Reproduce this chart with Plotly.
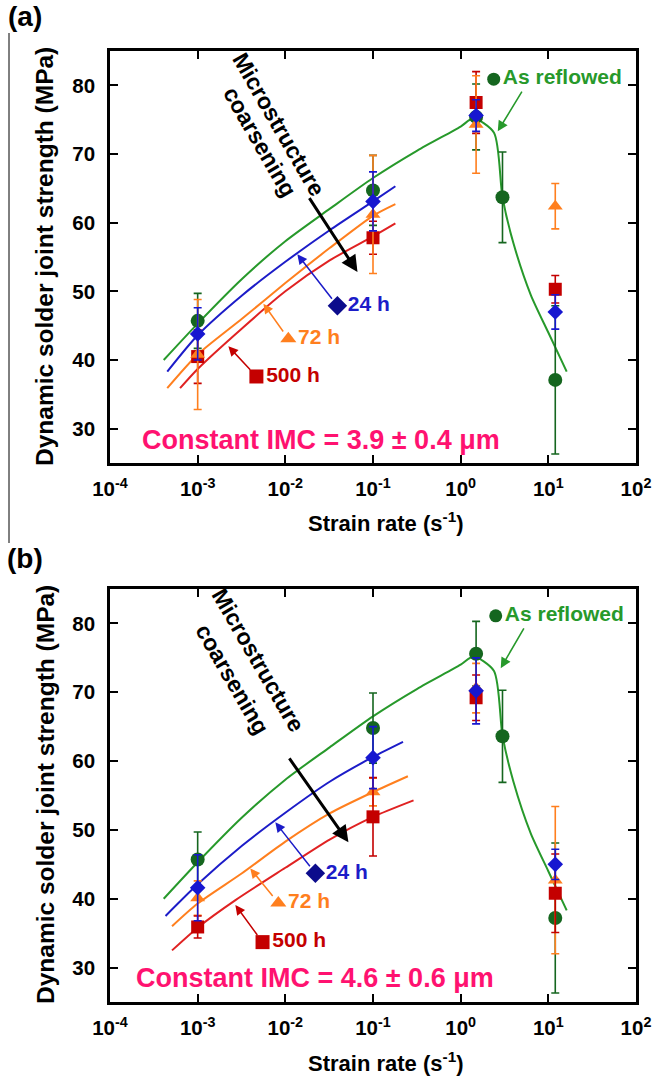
import plotly.graph_objects as go

# ---------------- measured joint strengths (MPa), mean and +/- scatter ----------------
rates = [1e-3, 1e-1, 1.5, 12]
reflow_rates = [1e-3, 1e-1, 1.5, 3, 12]

a_reflow = [45.7, 64.7, 75.4, 63.7, 37.1]
a_reflow_err = [4.0, 5.1, 4.8, 6.6, 10.8]
a_24h = [43.8, 63.1, 75.6, 47.0]
a_24h_err = [3.8, 4.3, 2.3, 2.5]
a_72h = [40.8, 61.2, 74.3, 62.4]
a_72h_err = [8.0, 8.6, 7.1, 3.3]
a_500h = [40.5, 57.8, 77.5, 50.3]
a_500h_err = [3.9, 2.4, 4.5, 2.0]

b_reflow = [45.7, 64.8, 75.6, 63.6, 37.2]
b_reflow_err = [4.0, 5.1, 4.7, 6.7, 10.9]
b_24h = [41.6, 60.5, 70.2, 45.0]
b_24h_err = [4.8, 4.5, 4.8, 2.2]
b_72h = [40.1, 55.5, 70.6, 42.7]
b_72h_err = [2.5, 2.0, 3.6, 10.7]
b_500h = [35.9, 51.9, 69.2, 40.8]
b_500h_err = [1.6, 5.7, 3.3, 5.7]

# ---------------- fitted trend curves ----------------
fit_reflow_rate = [4.1e-4, 1e-3, 3.2e-3, 1e-2, 3.2e-2, 0.1, 0.32, 1.0, 1.4, 2.4, 3.0, 4.0, 6.3, 10, 16.2]
fit_reflow = [40.0, 45.3, 51.8, 57.3, 62.0, 66.5, 70.5, 74.0, 75.2, 73.1, 63.7, 57.0, 49.5, 44.0, 38.3]

fit_a_24h_rate = [4.5e-4, 1e-3, 3.2e-3, 1e-2, 3.2e-2, 0.1, 0.18]
fit_a_24h = [38.3, 43.6, 49.4, 54.3, 58.9, 63.1, 65.3]
fit_a_72h_rate = [4.5e-4, 1e-3, 3.2e-3, 1e-2, 3.2e-2, 0.1, 0.18]
fit_a_72h = [35.9, 40.8, 46.0, 51.2, 56.3, 61.0, 62.7]
fit_a_500h_rate = [6.3e-4, 1e-3, 3.2e-3, 1e-2, 3.2e-2, 0.1, 0.18]
fit_a_500h = [35.9, 38.7, 44.6, 50.0, 54.5, 58.0, 59.9]

fit_b_24h_rate = [4.3e-4, 1e-3, 3.2e-3, 1e-2, 3.2e-2, 0.1, 0.22]
fit_b_24h = [37.5, 42.1, 47.7, 52.5, 57.0, 60.6, 62.8]
fit_b_72h_rate = [5.1e-4, 1e-3, 3.2e-3, 1e-2, 3.2e-2, 0.1, 0.25]
fit_b_72h = [36.0, 39.3, 43.7, 48.3, 52.4, 55.5, 57.8]
fit_b_500h_rate = [5.1e-4, 1e-3, 2.7e-3, 1e-2, 3.2e-2, 0.1, 0.29]
fit_b_500h = [32.5, 35.8, 39.8, 44.5, 48.6, 51.9, 54.3]

# ---------------- text ----------------
tick_vals = [1e-4, 1e-3, 1e-2, 1e-1, 1e0, 1e1, 1e2]
tick_text = ["10<sup>-4</sup>", "10<sup>-3</sup>", "10<sup>-2</sup>", "10<sup>-1</sup>",
             "10<sup>0</sup>", "10<sup>1</sup>", "10<sup>2</sup>"]
y_ticks = [30, 40, 50, 60, 70, 80]
imc_a = "Constant IMC = 3.9 ± 0.4 μm"
imc_b = "Constant IMC = 4.6 ± 0.6 μm"

# ---------------- styling ----------------
FONT = "Liberation Sans, Arial, sans-serif"
W, H = 652, 1080
GREEN_LINE, GREEN_MK = "#27992b", "#15661f"
BLUE_LINE, BLUE_MK, BLUE_LBL = "#1c1cc8", "#1717d0", "#0c0c8c"
ORANGE = "#ff7f1e"
RED_LINE, RED_MK = "#e02222", "#c40000"
PINK = "#ff1270"

fig = go.Figure()

def px_x(p):
    return p / W

def px_y(p):
    return 1 - p / H

panels = [
    dict(xa="x", ya="y", dom_y=[px_y(463), px_y(51)],
         reflow=a_reflow, reflow_err=a_reflow_err,
         series=[(a_500h, a_500h_err, "square", RED_MK, 13),
                 (a_72h, a_72h_err, "triangle-up", ORANGE, 13),
                 (a_24h, a_24h_err, "diamond", BLUE_MK, 12)],
         fits=[(fit_a_24h_rate, fit_a_24h, BLUE_LINE),
               (fit_a_72h_rate, fit_a_72h, ORANGE),
               (fit_a_500h_rate, fit_a_500h, RED_LINE)],
         labels=[("24 h", -1.406, 47.9, -1.863, 55.4, "diamond", BLUE_LBL, BLUE_LINE),
                 ("72 h", -1.966, 43.1, -2.25, 48.2, "triangle-up", ORANGE, ORANGE),
                 ("500 h", -2.33, 37.6, -2.65, 42.0, "square", RED_MK, RED_MK)],
         reflow_lbl=(0.377, 80.9, 0.709, 79.3, 0.423, 73.3),
         coarse_arrow=(-1.737, 63.8, -1.177, 52.8),
         micro=(-2.08, 74.3), coars=(-2.286, 71.8),
         imc=imc_a, imc_pos=(321, 440)),
    dict(xa="x2", ya="y2", dom_y=[px_y(1002), px_y(589)],
         reflow=b_reflow, reflow_err=b_reflow_err,
         series=[(b_72h, b_72h_err, "triangle-up", ORANGE, 13),
                 (b_500h, b_500h_err, "square", RED_MK, 13),
                 (b_24h, b_24h_err, "diamond", BLUE_MK, 12)],
         fits=[(fit_b_24h_rate, fit_b_24h, BLUE_LINE),
               (fit_b_72h_rate, fit_b_72h, ORANGE),
               (fit_b_500h_rate, fit_b_500h, RED_LINE)],
         labels=[("24 h", -1.657, 43.7, -2.114, 51.1, "diamond", BLUE_LBL, BLUE_LINE),
                 ("72 h", -2.08, 39.4, -2.40, 44.4, "triangle-up", ORANGE, ORANGE),
                 ("500 h", -2.26, 33.7, -2.57, 39.1, "square", RED_MK, RED_MK)],
         reflow_lbl=(0.40, 81.1, 0.731, 79.5, 0.457, 73.5),
         coarse_arrow=(-1.966, 60.6, -1.28, 48.2),
         micro=(-2.309, 74.7), coars=(-2.606, 71.9),
         imc=imc_b, imc_pos=(315, 978)),
]

annotations = []
for pn in panels:
    xa, ya = pn["xa"], pn["ya"]
    # trend curves
    fig.add_trace(go.Scatter(x=fit_reflow_rate, y=fit_reflow, mode="lines",
                             line=dict(color=GREEN_LINE, width=2, shape="spline", smoothing=0.7),
                             xaxis=xa, yaxis=ya, hoverinfo="skip"))
    for fx, fy, col in pn["fits"]:
        fig.add_trace(go.Scatter(x=fx, y=fy, mode="lines",
                                 line=dict(color=col, width=2, shape="spline", smoothing=0.7),
                                 xaxis=xa, yaxis=ya, hoverinfo="skip"))
    # measured points
    fig.add_trace(go.Scatter(x=reflow_rates, y=pn["reflow"], mode="markers",
                             marker=dict(symbol="circle", size=14, color=GREEN_MK),
                             error_y=dict(type="data", array=pn["reflow_err"], color=GREEN_MK,
                                          thickness=1.6, width=4),
                             xaxis=xa, yaxis=ya))
    for vals, errs, sym, col, sz in pn["series"]:
        fig.add_trace(go.Scatter(x=rates, y=vals, mode="markers",
                                 marker=dict(symbol=sym, size=sz, color=col),
                                 error_y=dict(type="data", array=errs, color=col,
                                              thickness=1.6, width=4),
                                 xaxis=xa, yaxis=ya))
    # series labels with pointer arrows
    for txt, lx, ly, tx, ty, sym, mcol, lcol in pn["labels"]:
        fig.add_trace(go.Scatter(x=[10 ** lx], y=[ly], mode="markers+text", text=[txt],
                                 textposition="middle right",
                                 textfont=dict(family=FONT, size=21, color=lcol, weight="bold"),
                                 marker=dict(symbol=sym, size=14 if sym != "diamond" else 15, color=mcol),
                                 xaxis=xa, yaxis=ya, cliponaxis=False))
        annotations.append(dict(x=tx, y=ty, ax=lx, ay=ly, xref=xa, yref=ya, axref=xa, ayref=ya,
                                text="", showarrow=True, arrowhead=2, arrowsize=1.3,
                                arrowwidth=1.5, arrowcolor=lcol, startstandoff=7))
    mx, my, ax_, ay_, tx, ty = pn["reflow_lbl"]
    fig.add_trace(go.Scatter(x=[10 ** mx], y=[my], mode="markers+text", text=["As reflowed"],
                             textposition="middle right",
                             textfont=dict(family=FONT, size=21, color=GREEN_LINE, weight="bold"),
                             marker=dict(symbol="circle", size=13, color=GREEN_MK),
                             xaxis=xa, yaxis=ya, cliponaxis=False))
    annotations.append(dict(x=tx, y=ty, ax=ax_, ay=ay_, xref=xa, yref=ya, axref=xa, ayref=ya,
                            text="", showarrow=True, arrowhead=2, arrowsize=1.3,
                            arrowwidth=1.6, arrowcolor=GREEN_LINE))
    # microstructure coarsening arrow and caption
    cx0, cy0, cx1, cy1 = pn["coarse_arrow"]
    annotations.append(dict(x=cx1, y=cy1, ax=cx0, ay=cy0, xref=xa, yref=ya, axref=xa, ayref=ya,
                            text="", showarrow=True, arrowhead=2, arrowsize=1.1,
                            arrowwidth=3, arrowcolor="black"))
    for (tx_, ty_), s in ((pn["micro"], "Microstructure"), (pn["coars"], "coarsening")):
        annotations.append(dict(x=tx_, y=ty_, xref=xa, yref=ya, text=s, showarrow=False,
                                textangle=60, font=dict(family=FONT, size=23, color="black", weight="bold")))
    # IMC thickness note
    ix, iy = pn["imc_pos"]
    annotations.append(dict(x=px_x(ix), y=px_y(iy), xref="paper", yref="paper", text=pn["imc"],
                            showarrow=False, xanchor="center", yanchor="middle",
                            font=dict(family=FONT, size=27, color=PINK, weight="bold")))

# axis titles and panel letters
for ytitle_c, xtitle_c, letter, ly in ((257, 522, "(a)", 17), (795, 1062, "(b)", 558)):
    annotations.append(dict(x=px_x(45), y=px_y(ytitle_c), xref="paper", yref="paper",
                            text="Dynamic solder joint strength (MPa)", textangle=-90,
                            showarrow=False, xanchor="center", yanchor="middle",
                            font=dict(family=FONT, size=24.5, color="black", weight="bold")))
    annotations.append(dict(x=px_x(386), y=px_y(xtitle_c), xref="paper", yref="paper",
                            text="Strain rate (s<sup>-1</sup>)", showarrow=False,
                            xanchor="center", yanchor="middle",
                            font=dict(family=FONT, size=22, color="black", weight="bold")))
    annotations.append(dict(x=px_x(25), y=px_y(ly), xref="paper", yref="paper", text=letter,
                            showarrow=False, xanchor="center", yanchor="middle",
                            font=dict(family=FONT, size=28, color="black", weight="bold")))

axis_style = dict(showline=True, linecolor="black", linewidth=2.5, mirror="ticks",
                  ticks="inside", ticklen=8, tickwidth=2, tickcolor="black",
                  showgrid=False, zeroline=False, automargin=False,
                  tickfont=dict(family=FONT, size=20.5, color="black", weight="bold"))

x_dom = [px_x(110), px_x(636)]
layout_axes = {}
for i, pn in enumerate(panels):
    sfx = "" if i == 0 else "2"
    layout_axes["xaxis" + sfx] = dict(axis_style, type="log", range=[-4, 2], domain=x_dom,
                                      tickvals=tick_vals, ticktext=tick_text,
                                      anchor="y" + sfx, ticklabelstandoff=6)
    layout_axes["yaxis" + sfx] = dict(axis_style, range=[25, 85], domain=pn["dom_y"],
                                      tickvals=y_ticks, anchor="x" + sfx, ticklabelstandoff=8)

fig.update_layout(
    width=W, height=H, margin=dict(l=0, r=0, t=0, b=0, autoexpand=False),
    paper_bgcolor="white", plot_bgcolor="white", showlegend=False,
    annotations=annotations,
    shapes=[dict(type="line", xref="paper", yref="paper", x0=px_x(9), x1=px_x(9),
                 y0=px_y(33), y1=px_y(543), line=dict(color="black", width=1))],
    **layout_axes,
)

fig.write_html("out.html")
